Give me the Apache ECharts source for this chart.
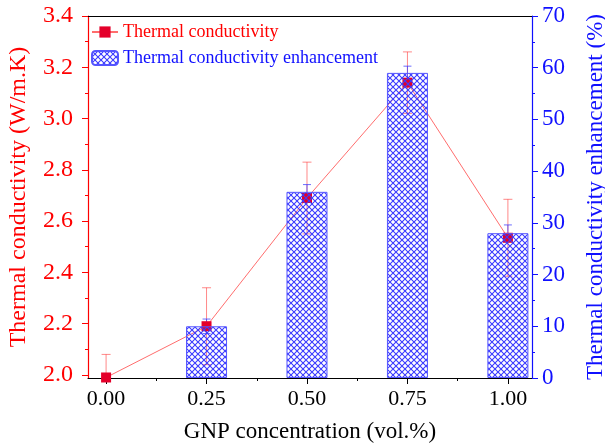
<!DOCTYPE html>
<html>
<head>
<meta charset="utf-8">
<script src="https://cdn.jsdelivr.net/npm/echarts@6/dist/echarts.min.js"></script>
<style>
  html, body { margin: 0; padding: 0; background: #fff; }
  #chart { width: 605px; height: 443px; }
</style>
</head>
<body>
<div id="chart"></div>
<script>
// GNP concentration (vol.%)
const concentrations = [0, 0.25, 0.5, 0.75, 1.0];
// thermal conductivity (W/m.K) and its error
const conductivity = [1.99, 2.19, 2.69, 3.14, 2.535];
const conductivityErr = [0.09, 0.15, 0.14, 0.12, 0.15];
// enhancement (%) and its error
const enhancement = [0, 10, 36, 59, 28];
const enhancementErr = [0, 1.4, 1.4, 1.3, 1.6];

const xTicks = [0, 0.25, 0.5, 0.75, 1.0];
const xMinorTicks = [0.125, 0.375, 0.625, 0.875];
const leftTicks = [2.0, 2.2, 2.4, 2.6, 2.8, 3.0, 3.2, 3.4];
const leftMinorTicks = [2.1, 2.3, 2.5, 2.7, 2.9, 3.1, 3.3];

const FONT = 'Liberation Serif';
const RED = '#ff0000';
const BLUE = '#1010ff';

// cross hatch fill like the Origin pattern
function makeHatch() {
    const c = document.createElement('canvas');
    c.width = 6; c.height = 6;
    const ctx = c.getContext('2d');
    ctx.strokeStyle = '#3a3aff';
    ctx.lineWidth = 1.1;
    ctx.beginPath();
    ctx.moveTo(0, 0); ctx.lineTo(6, 6);
    ctx.moveTo(6, 0); ctx.lineTo(0, 6);
    ctx.stroke();
    return c;
}
const hatch = { image: makeHatch(), repeat: 'repeat' };

function errorBars(color, cap) {
    return function (params, api) {
        const x = api.value(0), lo = api.value(1), hi = api.value(2);
        if (hi === lo) return null;
        const top = api.coord([x, hi]);
        const bot = api.coord([x, lo]);
        const style = { stroke: color, lineWidth: 1 };
        return {
            type: 'group',
            children: [
                { type: 'line', shape: { x1: top[0], y1: top[1], x2: bot[0], y2: bot[1] }, style: style },
                { type: 'line', shape: { x1: top[0] - cap, y1: top[1], x2: top[0] + cap, y2: top[1] }, style: style },
                { type: 'line', shape: { x1: bot[0] - cap, y1: bot[1], x2: bot[0] + cap, y2: bot[1] }, style: style }
            ]
        };
    };
}

const chart = echarts.init(document.getElementById('chart'));

const xMin = -0.045, xMax = 1.06;

const option = {
    animation: false,
    textStyle: { fontFamily: FONT },
    grid: { left: 88, right: 73, top: 16, bottom: 65, outerBoundsMode: 'none', containLabel: false },
    legend: {
        orient: 'vertical',
        left: 91,
        top: 23,
        padding: 0,
        itemWidth: 26,
        itemHeight: 14,
        itemGap: 8,
        textStyle: { fontFamily: FONT, fontSize: 18 },
        data: [
            { name: 'Thermal conductivity', textStyle: { color: RED } },
            { name: 'Thermal conductivity enhancement', textStyle: { color: BLUE } }
        ]
    },
    xAxis: [
        {
            type: 'value', min: xMin, max: xMax, position: 'bottom',
            name: 'GNP concentration (vol.%)', nameLocation: 'middle', nameGap: 42,
            nameTextStyle: { color: '#000', fontSize: 23, fontFamily: FONT },
            axisLine: { onZero: false, lineStyle: { color: '#000', width: 1.2 } },
            axisTick: { customValues: xTicks, length: 6, lineStyle: { color: '#000' } },
            axisLabel: {
                customValues: xTicks, color: '#000', fontSize: 22, fontFamily: FONT, margin: 10,
                formatter: v => v.toFixed(2)
            },
            splitLine: { show: false }
        },
        {
            type: 'value', min: xMin, max: xMax, position: 'bottom',
            axisLine: { show: false, onZero: false },
            axisTick: { customValues: xMinorTicks, length: 3, lineStyle: { color: '#000' } },
            axisLabel: { show: false },
            splitLine: { show: false }
        },
        {
            type: 'value', min: xMin, max: xMax, position: 'top',
            axisLine: { onZero: false, lineStyle: { color: '#000', width: 1.2 } },
            axisTick: { show: false },
            axisLabel: { show: false },
            splitLine: { show: false }
        }
    ],
    yAxis: [
        {
            type: 'value', min: 1.988, max: 3.4, position: 'left',
            name: 'Thermal conductivity (W/m.K)', nameLocation: 'middle', nameGap: 57,
            nameTextStyle: { color: RED, fontSize: 24, fontFamily: FONT },
            axisLine: { show: true, onZero: false, lineStyle: { color: RED, width: 1.2 } },
            axisTick: { show: true, customValues: leftTicks, length: 6, lineStyle: { color: RED } },
            axisLabel: {
                customValues: leftTicks, color: RED, fontSize: 24, fontFamily: FONT, margin: 15,
                formatter: v => v.toFixed(1)
            },
            splitLine: { show: false }
        },
        {
            type: 'value', min: 0, max: 70, interval: 10, position: 'right',
            name: 'Thermal conductivity enhancement (%)', nameLocation: 'middle', nameGap: 52,
            nameTextStyle: { color: BLUE, fontSize: 23, fontFamily: FONT },
            axisLine: { show: true, onZero: false, lineStyle: { color: BLUE, width: 1.2 } },
            axisTick: { show: true, length: 6, lineStyle: { color: BLUE } },
            minorTick: { show: true, splitNumber: 2, length: 3, lineStyle: { color: BLUE } },
            axisLabel: { color: BLUE, fontSize: 23, fontFamily: FONT, margin: 10 },
            splitLine: { show: false },
            minorSplitLine: { show: false }
        },
        {
            type: 'value', min: 1.988, max: 3.4, position: 'left',
            axisLine: { show: false, onZero: false },
            axisTick: { show: true, customValues: leftMinorTicks, length: 3, lineStyle: { color: RED } },
            axisLabel: { show: false },
            splitLine: { show: false }
        }
    ],
    series: [
        {
            type: 'custom',
            xAxisIndex: 0, yAxisIndex: 0,
            clip: true,
            z: 1,
            renderItem: errorBars('rgba(255,40,40,0.55)', 4.5),
            data: concentrations.map((x, i) => [x, conductivity[i] - conductivityErr[i], conductivity[i] + conductivityErr[i]])
        },
        {
            type: 'custom',
            xAxisIndex: 0, yAxisIndex: 1,
            clip: true,
            z: 1,
            renderItem: errorBars('rgba(60,60,255,0.75)', 4),
            data: concentrations.map((x, i) => [x, enhancement[i] - enhancementErr[i], enhancement[i] + enhancementErr[i]])
        },
        {
            name: 'Thermal conductivity',
            type: 'line',
            xAxisIndex: 0, yAxisIndex: 0,
            z: 2,
            symbol: 'rect',
            symbolSize: 10,
            itemStyle: { color: '#e4002a' },
            lineStyle: { color: 'rgba(255,60,60,0.75)', width: 1 },
            data: concentrations.map((x, i) => [x, conductivity[i]])
        },
        {
            name: 'Thermal conductivity enhancement',
            type: 'bar',
            xAxisIndex: 0, yAxisIndex: 1,
            z: 3,
            barWidth: 41,
            itemStyle: { color: hatch, borderColor: '#5555ff', borderWidth: 1 },
            data: concentrations.map((x, i) => ({
                value: [x, enhancement[i]],
                itemStyle: { borderWidth: enhancement[i] === 0 ? 0 : 1 }
            }))
        }
    ]
};

chart.setOption(option);
</script>
</body>
</html>
